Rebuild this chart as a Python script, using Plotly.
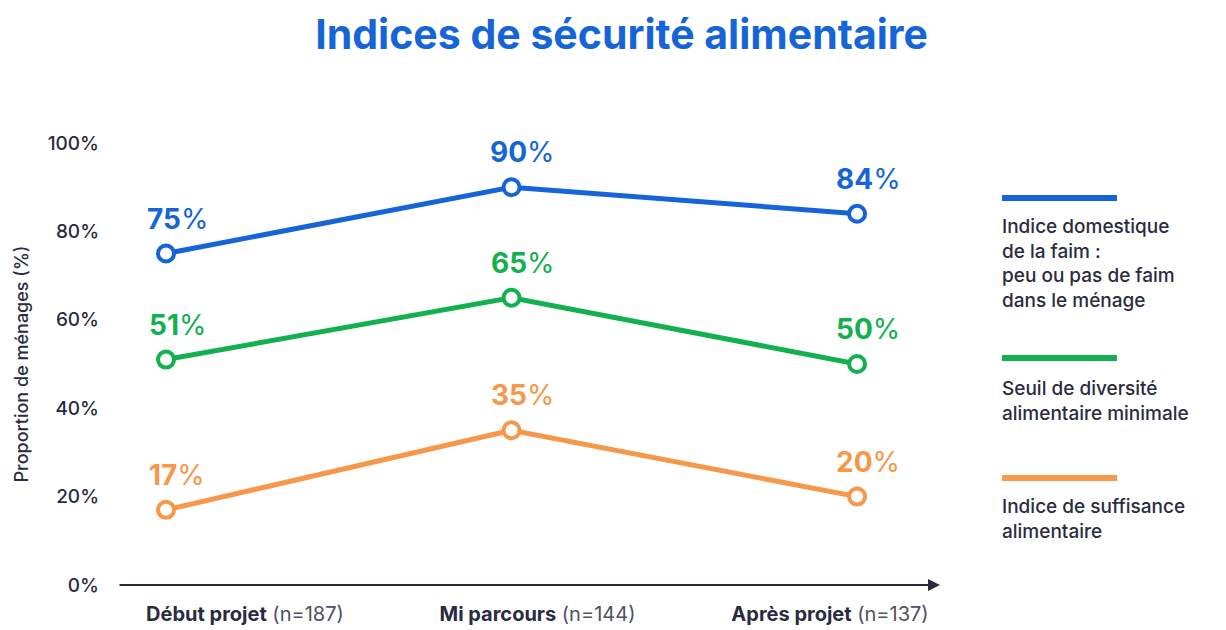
import plotly.graph_objects as go

# ---------------- data ----------------
stages = ["Début projet", "Mi parcours", "Après projet"]
sample_sizes = [187, 144, 137]

series_names = [
    "Indice domestique<br>de la faim :<br>peu ou pas de faim<br>dans le ménage",
    "Seuil de diversité<br>alimentaire minimale",
    "Indice de suffisance<br>alimentaire",
]
hunger_index = [75, 90, 84]
diversity_threshold = [51, 65, 50]
sufficiency_index = [17, 35, 20]
series_values = [hunger_index, diversity_threshold, sufficiency_index]
series_colors = ["#1565d8", "#12b04f", "#f7974a"]

y_ticks = [0, 20, 40, 60, 80, 100]
y_ticklabels = [f"{v}%" for v in y_ticks]

title_text = "Indices de sécurité alimentaire"
y_title = "Proportion de ménages (%)"

FONT = "Inter"
DARK = "#2b2b40"

fig = go.Figure()

for name, vals, col in zip(series_names, series_values, series_colors):
    fig.add_trace(go.Scatter(
        x=stages, y=vals, mode="lines+markers",
        name=name.replace("<br>", " "),
        line=dict(color=col, width=5),
        marker=dict(symbol="circle", size=16, color="white",
                    line=dict(color=col, width=4)),
        cliponaxis=False, showlegend=False,
    ))
    for s, v in zip(stages, vals):
        fig.add_annotation(
            x=s, y=v, xref="x", yref="y", showarrow=False,
            text=f"<b>{v}</b>%", yanchor="middle", yshift=35, xshift=11,
            font=dict(family=FONT, size=28, color=col),
        )

# invisible trace carrying the category-label axis
fig.add_trace(go.Scatter(x=list(range(len(stages))), y=[None] * len(stages),
                         xaxis="x2", yaxis="y", showlegend=False,
                         hoverinfo="skip", mode="markers"))

# axis line with arrow
fig.add_annotation(xref="x domain", yref="y", x=1.0, y=0,
                   axref="x domain", ayref="y", ax=0.0, ay=0,
                   text="", showarrow=True, arrowhead=2, arrowsize=1.2,
                   arrowwidth=2, arrowcolor=DARK)

# custom legend (paper coords relative to the plot area)
legend_line_y = [0.8756, 0.5136, 0.2421]
legend_text_y = [0.842, 0.474, 0.209]
for name, col, ly, ty in zip(series_names, series_colors, legend_line_y, legend_text_y):
    fig.add_shape(type="line", xref="paper", yref="paper",
                  x0=1.0754, x1=1.2153, y0=ly, y1=ly,
                  line=dict(color=col, width=6))
    fig.add_annotation(xref="paper", yref="paper", x=1.0724, y=ty,
                       xanchor="left", yanchor="top", align="left",
                       showarrow=False, text=name,
                       font=dict(family=FONT, size=19, color=DARK, weight=500))

fig.update_layout(
    width=1226, height=630,
    margin=dict(l=118, r=286, t=143, b=45),
    paper_bgcolor="white", plot_bgcolor="white",
    title=dict(text=f"<b>{title_text}</b>", x=0.507, xanchor="center",
               y=0.945, yanchor="middle",
               font=dict(family=FONT, size=41, color="#1565d8")),
    xaxis=dict(type="category", range=[-0.139, 2.24], showticklabels=False,
               showgrid=False, zeroline=False, showline=False, ticks="",
               automargin=False),
    xaxis2=dict(overlaying="x", anchor="y", side="bottom",
                range=[-0.434, 2.376], tickmode="array",
                tickvals=list(range(len(stages))),
                ticktext=[f"<b>{s}</b> <span style='color:#50505f'>(n={n})</span>"
                          for s, n in zip(stages, sample_sizes)],
                tickfont=dict(family=FONT, size=20, color=DARK),
                ticklabelstandoff=15, automargin=False,
                showgrid=False, zeroline=False, showline=False, ticks=""),
    yaxis=dict(range=[0, 100], tickmode="array", tickvals=y_ticks,
               ticktext=y_ticklabels, showgrid=False, zeroline=False,
               showline=False, ticks="", ticklabelstandoff=18,
               automargin=False,
               tickfont=dict(family=FONT, size=19, color=DARK, weight=500),
               title=dict(text=y_title, standoff=14,
                          font=dict(family=FONT, size=18, color=DARK, weight=500))),
)

fig.write_html("out.html")
